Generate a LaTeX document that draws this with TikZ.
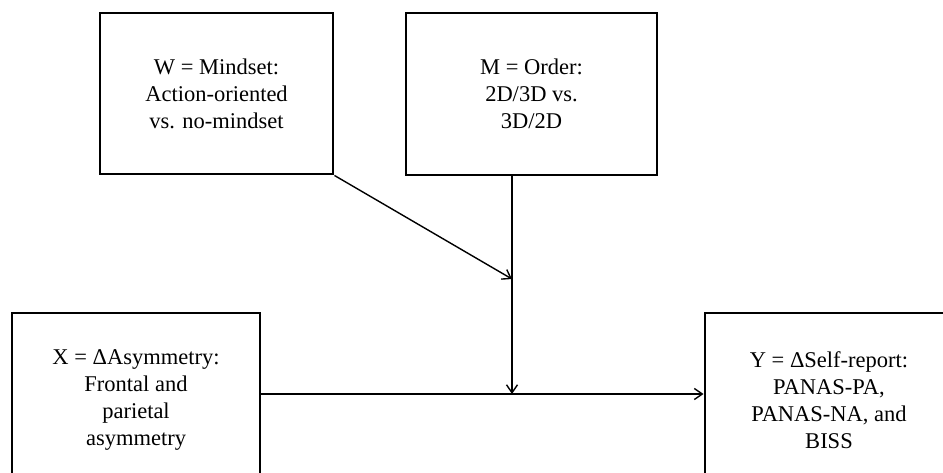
\documentclass[tikz,border=0pt]{standalone}
\usepackage{fontspec}
\setmainfont{Liberation Serif}
\usetikzlibrary{arrows.meta}
\begin{document}
\begin{tikzpicture}[x=1pt,y=-1pt,>={Straight Barb[length=8pt,width=11pt]},
  box/.style={draw,line width=2.9pt,align=center,inner sep=0pt,font=\fontsize{22.5}{27}\selectfont},
  link/.style={line width=1.4pt}]
 \useasboundingbox (0,0) rectangle (943,472);
 \clip (0,0) rectangle (943,472);
 \node[box,minimum width=233pt,minimum height=161pt] (W) at (216.5,93.5) {W = Mindset:\\Action-oriented\\vs. no-mindset};
 \node[box,minimum width=251pt,minimum height=162pt] (M) at (531.5,94) {M = Order:\\2D/3D vs.\\3D/2D};
 \node[box,minimum width=248pt,minimum height=174pt] (X) at (136,400) {X = ΔAsymmetry:\\Frontal and\\parietal\\asymmetry};
 \node[box,minimum width=248pt,minimum height=174pt] (Y) at (829,400) {Y = ΔSelf-report:\\PANAS-PA,\\PANAS-NA, and\\BISS};
 \coordinate (hit) at (512,394);
 \coordinate (mod) at (512,279);
 \draw[link,->] (X.east |- hit) -- (Y.west |- hit);
 \draw[link,->] (M.south -| hit) -- (hit);
 \draw[link,->] (W.south east) -- (mod);
\end{tikzpicture}
\end{document}
